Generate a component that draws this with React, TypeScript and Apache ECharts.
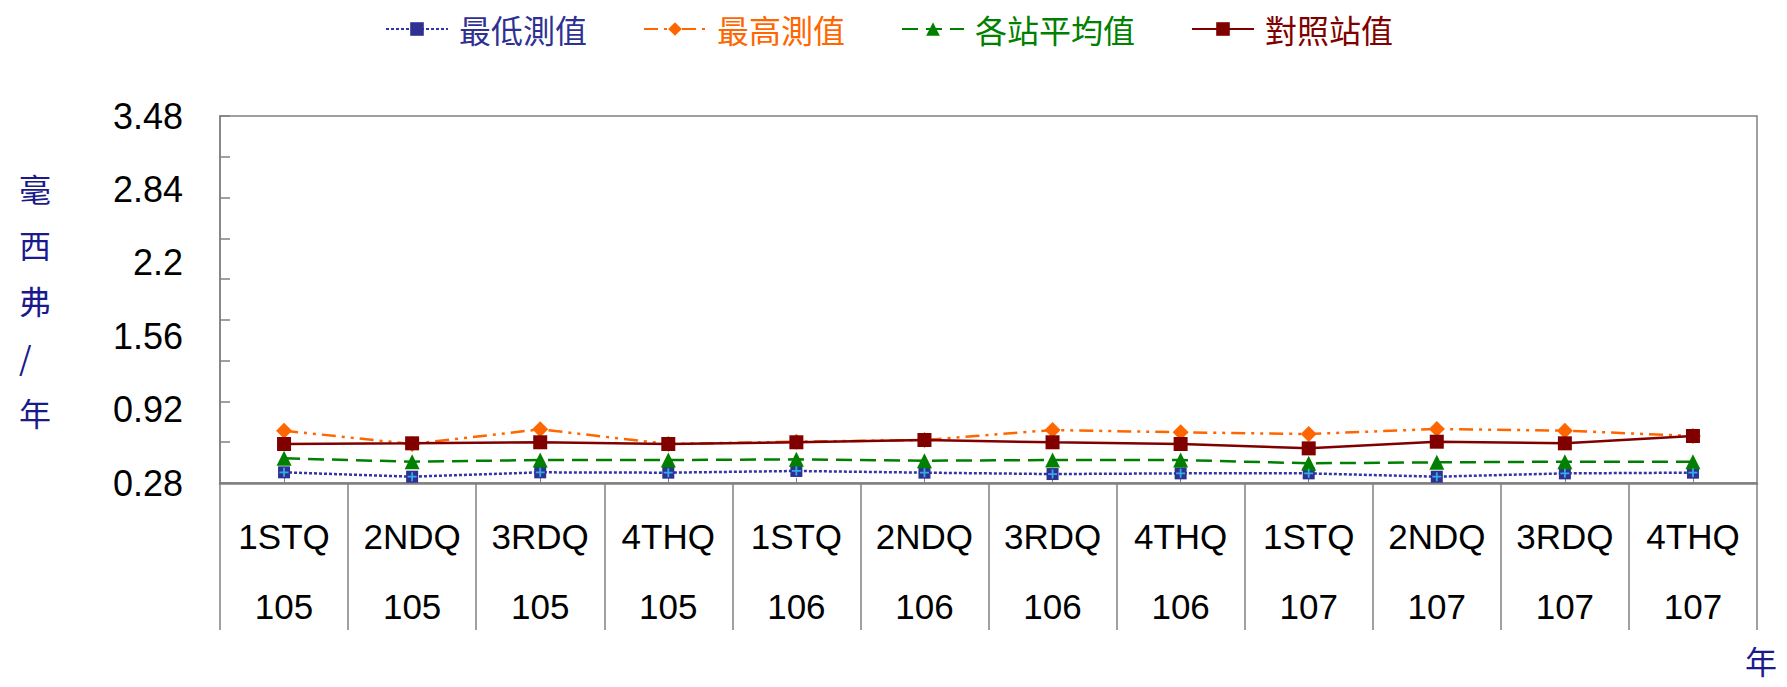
import React, { useEffect, useRef } from "react";
import * as echarts from "echarts";

const quarters = ["1STQ", "2NDQ", "3RDQ", "4THQ", "1STQ", "2NDQ", "3RDQ", "4THQ", "1STQ", "2NDQ", "3RDQ", "4THQ"];
const years = ["105", "105", "105", "105", "106", "106", "106", "106", "107", "107", "107", "107"];
const categories = quarters.map((q, i) => `${q}\n${years[i]}`);

const minVals = [0.373, 0.335, 0.373, 0.37, 0.385, 0.37, 0.358, 0.364, 0.364, 0.335, 0.364, 0.37];
const maxVals = [0.736, 0.62, 0.748, 0.62, 0.64, 0.655, 0.742, 0.722, 0.707, 0.751, 0.736, 0.69];
const avgVals = [0.495, 0.466, 0.48, 0.48, 0.486, 0.474, 0.48, 0.48, 0.452, 0.46, 0.466, 0.466];
const refVals = [0.62, 0.626, 0.635, 0.62, 0.635, 0.655, 0.635, 0.62, 0.582, 0.64, 0.626, 0.69];

const seriesNames = ["最低測值", "最高測值", "各站平均值", "對照站值"];
const seriesColors = ["#2e3192", "#ff6600", "#008000", "#800000"];

const yMin = 0.28;
const yMax = 3.48;
const yLabelInterval = 0.64;
const yTickCount = 9;

const PLUS = "path://M4,0H6V4H10V6H6V10H4V6H0V4H4Z";

export default function App() {
  const ref = useRef<HTMLDivElement>(null);
  useEffect(() => {
    document.body.style.margin = "0";
    if (!ref.current) return;
    const chart = echarts.init(ref.current, undefined, { renderer: "svg" });
    const cjk = "'Noto Sans CJK TC', 'Noto Sans CJK SC', sans-serif";
    const latin = "'Liberation Sans', Arial, sans-serif";
    chart.setOption({
      animation: false,
      backgroundColor: "#ffffff",
      legend: {
        left: 380,
        top: 8,
        itemWidth: 62,
        itemHeight: 17,
        itemGap: 56,
        data: seriesNames.map((n, i) => ({
          name: n,
          textStyle: { color: seriesColors[i] },
        })),
        textStyle: { fontFamily: cjk, fontSize: 32, padding: [0, 0, 0, 6] },
      },
      grid: {
        left: 220,
        top: 116,
        right: 30,
        bottom: 204,
        show: true,
        borderColor: "#808080",
        borderWidth: 1.5,
        containLabel: false,
      },
      xAxis: [
        {
          type: "category",
          data: categories,
          boundaryGap: true,
          axisLine: { show: true, lineStyle: { color: "#808080", width: 2.5 } },
          axisTick: { show: true, interval: 0, length: 147, lineStyle: { color: "#808080", width: 1.5 } },
          axisLabel: {
            interval: 0,
            margin: 18,
            color: "#000000",
            fontFamily: latin,
            fontSize: 35,
            lineHeight: 70,
          },
          splitLine: { show: false },
        },
        {
          type: "category",
          data: categories,
          position: "bottom",
          boundaryGap: true,
          axisLine: { show: false },
          axisTick: { show: true, alignWithLabel: true, inside: true, length: 5, lineStyle: { color: "#808080" } },
          axisLabel: { show: false },
          splitLine: { show: false },
        },
      ],
      yAxis: [
        {
          type: "value",
          min: yMin,
          max: yMax,
          interval: yLabelInterval,
          axisLine: { show: true, lineStyle: { color: "#808080", width: 1.5 } },
          axisTick: { show: false },
          splitLine: { show: false },
          axisLabel: {
            margin: 37,
            color: "#000000",
            fontFamily: latin,
            fontSize: 36,
            padding: [6, 0, 0, 0],
            formatter: (v: number) => String(parseFloat(v.toFixed(2))),
          },
        },
        {
          type: "value",
          position: "left",
          min: yMin,
          max: yMax,
          interval: (yMax - yMin) / yTickCount,
          axisLine: { show: false },
          axisTick: { show: true, inside: true, length: 10, lineStyle: { color: "#808080", width: 1.5 } },
          axisLabel: { show: false },
          splitLine: { show: false },
        },
      ],
      series: [
        {
          name: seriesNames[0],
          type: "line",
          data: minVals,
          symbol: "rect",
          symbolSize: 12,
          z: 3,
          itemStyle: { color: seriesColors[0] },
          lineStyle: { color: "#3333aa", width: 2.5, type: [3, 2] },
        },
        {
          name: "plus-overlay",
          type: "scatter",
          data: minVals,
          symbol: PLUS,
          symbolSize: 9,
          z: 4,
          itemStyle: { color: "#33ccff" },
          silent: true,
        },
        {
          name: seriesNames[1],
          type: "line",
          data: maxVals,
          symbol: "diamond",
          symbolSize: 16,
          z: 2,
          itemStyle: { color: seriesColors[1] },
          lineStyle: { color: seriesColors[1], width: 2.5, type: [14, 6, 3, 6, 3, 6] },
        },
        {
          name: seriesNames[2],
          type: "line",
          data: avgVals,
          symbol: "triangle",
          symbolSize: 15,
          z: 3,
          itemStyle: { color: seriesColors[2] },
          lineStyle: { color: seriesColors[2], width: 2.5, type: [16, 8] },
        },
        {
          name: seriesNames[3],
          type: "line",
          data: refVals,
          symbol: "rect",
          symbolSize: 14,
          z: 5,
          itemStyle: { color: seriesColors[3] },
          lineStyle: { color: seriesColors[3], width: 2.5, type: "solid" },
        },
      ],
      graphic: [
        {
          type: "text",
          left: 19,
          top: 160,
          style: {
            text: "毫\n西\n弗\n/\n年",
            fill: "#1a1a8c",
            font: `32px ${cjk}`,
            lineHeight: 56,
            align: "center",
          },
        },
        {
          type: "text",
          left: 1745,
          top: 644,
          style: {
            text: "年",
            fill: "#1a1a8c",
            font: `32px ${cjk}`,
          },
        },
      ],
    });
    return () => chart.dispose();
  }, []);
  return <div ref={ref} style={{ width: 1787, height: 687 }} />;
}
